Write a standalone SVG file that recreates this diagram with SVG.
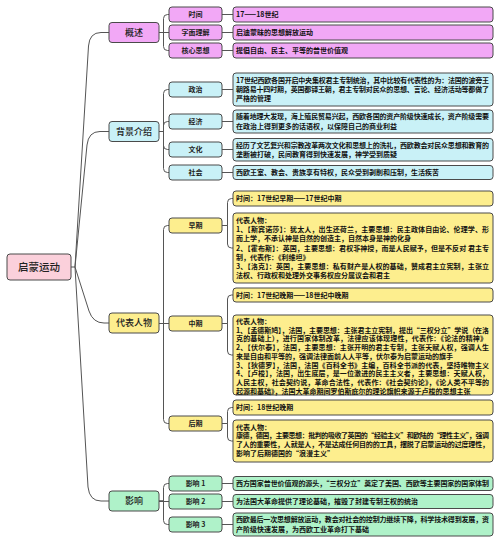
<svg xmlns="http://www.w3.org/2000/svg" width="500" height="543" viewBox="0 0 500 543">
<style>
text{font-family:"Noto Sans CJK SC","Noto Sans",sans-serif;}
.box{stroke:#4a4a4a;stroke-width:1;}
.root{fill:#fbd0db;}
.v{fill:#f2a8f6;}
.c{fill:#c9f1f7;}
.y{fill:#fdee8e;}
.g{fill:#aff2c9;}
.t0{font-size:10.5px;fill:#222;text-anchor:middle;font-weight:500;}
.t1{font-size:9px;fill:#222;text-anchor:middle;font-weight:500;}
.t2{font-size:7px;fill:#222;text-anchor:middle;font-weight:600;}
.t3{font-size:7px;fill:#111;font-weight:700;}
.conn path{fill:none;stroke:#555;stroke-width:1;}
</style>
<rect width="500" height="543" fill="#ffffff"/>
<g class="conn" id="connectors">
<path d="M71,267 H75"/>
<path d="M75,267 L88.5,46 Q89.5,32.5 101,32.5 H109"/>
<path d="M75,267 L87,145 Q88.5,131.5 100,131.5 H109"/>
<path d="M75,267 L89,311 Q93,323 104,323 H109"/>
<path d="M75,267 L88,487 Q89.5,501 101,501 H109"/>
<path d="M159,32.5 H163.5 V18.5 Q163.5,14.5 167.5,14.5 H169"/>
<path d="M159,32.5 H169"/>
<path d="M159,32.5 H163.5 V46.5 Q163.5,50.5 167.5,50.5 H169"/>
<path d="M159,131.5 H163.5 V93.5 Q163.5,89.5 167.5,89.5 H169"/>
<path d="M159,131.5 H163.5 V125.5 Q163.5,121.5 167.5,121.5 H169"/>
<path d="M159,131.5 H163.5 V145.5 Q163.5,149.5 167.5,149.5 H169"/>
<path d="M159,131.5 H163.5 V168.5 Q163.5,172.5 167.5,172.5 H169"/>
<path d="M159,323.5 H163.5 V229.5 Q163.5,225.5 167.5,225.5 H169"/>
<path d="M159,323.5 H169"/>
<path d="M159,323.5 H163.5 V419.5 Q163.5,423.5 167.5,423.5 H169"/>
<path d="M159,501 H163.5 V487.5 Q163.5,483.5 167.5,483.5 H169"/>
<path d="M159,501.5 H169"/>
<path d="M159,501 H163.5 V520.5 Q163.5,524.5 167.5,524.5 H169"/>
<path d="M222,14.5 H233"/>
<path d="M222,32.5 H233"/>
<path d="M222,50.5 H233"/>
<path d="M222,89.5 H233"/>
<path d="M222,121.5 H233"/>
<path d="M222,149.5 H233"/>
<path d="M222,172.5 H233"/>
<path d="M222,225.5 H227.5 V202.5 Q227.5,198.5 231.5,198.5 H233"/>
<path d="M222,225.5 H227.5 V244 Q227.5,248 231.5,248 H233"/>
<path d="M222,323.5 H227.5 V299 Q227.5,295 231.5,295 H233"/>
<path d="M222,323.5 H227.5 V351 Q227.5,355 231.5,355 H233"/>
<path d="M222,423.5 H227.5 V411.5 Q227.5,407.5 231.5,407.5 H233"/>
<path d="M222,423.5 H227.5 V437 Q227.5,441 231.5,441 H233"/>
<path d="M222,483.5 H233"/>
<path d="M222,501.5 H233"/>
<path d="M222,524.5 H233"/>
</g>
<g id="root"><rect class="box root" x="7" y="254" width="64" height="26" rx="3"/><text class="t0" x="39" y="271">启蒙运动</text></g>
<g id="gaishu"><rect class="box v" x="109" y="22.5" width="50" height="20" rx="3"/><text class="t1" x="134" y="35.7">概述</text></g>
<g id="beijing"><rect class="box c" x="109" y="121.5" width="50" height="20" rx="3"/><text class="t1" x="134" y="134.7">背景介绍</text></g>
<g id="daibiao"><rect class="box y" x="109" y="313" width="50" height="20" rx="3"/><text class="t1" x="134" y="326.2">代表人物</text></g>
<g id="yingxiang"><rect class="box g" x="109" y="491" width="50" height="20" rx="3"/><text class="t1" x="134" y="504.2">影响</text></g>

<g id="shijian"><rect class="box v" x="169" y="7" width="53" height="15" rx="3"/><text class="t2" x="195.5" y="17">时间</text></g>
<g id="zimian"><rect class="box v" x="169" y="25" width="53" height="15" rx="3"/><text class="t2" x="195.5" y="35">字面理解</text></g>
<g id="hexin"><rect class="box v" x="169" y="43" width="53" height="15" rx="3"/><text class="t2" x="195.5" y="53">核心思想</text></g>
<g id="shijian-d"><rect class="box v" x="233" y="7" width="260" height="15" rx="3"/><text class="t3" x="236" y="17">17——18世纪</text></g>
<g id="zimian-d"><rect class="box v" x="233" y="25" width="260" height="15" rx="3"/><text class="t3" x="236" y="35">启迪蒙昧的思想解放运动</text></g>
<g id="hexin-d"><rect class="box v" x="233" y="43" width="260" height="15" rx="3"/><text class="t3" x="236" y="53">提倡自由、民主、平等的普世价值观</text></g>

<g id="zhengzhi"><rect class="box c" x="169" y="82" width="53" height="15" rx="3"/><text class="t2" x="195.5" y="92">政治</text></g>
<g id="jingji"><rect class="box c" x="169" y="114" width="53" height="15" rx="3"/><text class="t2" x="195.5" y="124">经济</text></g>
<g id="wenhua"><rect class="box c" x="169" y="142" width="53" height="15" rx="3"/><text class="t2" x="195.5" y="152">文化</text></g>
<g id="shehui"><rect class="box c" x="169" y="165" width="53" height="15" rx="3"/><text class="t2" x="195.5" y="175">社会</text></g>
<g id="zhengzhi-d"><rect class="box c" x="233" y="73" width="260" height="33" rx="3"/>
<text class="t3" x="236" y="83" textLength="253">17世纪西欧各国开启中央集权君主专制统治，其中比较有代表性的为：法国的波旁王</text>
<text class="t3" x="236" y="92" textLength="253">朝路易十四时期，英国都铎王朝，君主专制对民众的思想、言论、经济活动等都做了</text>
<text class="t3" x="236" y="101">严格的管理</text></g>
<g id="jingji-d"><rect class="box c" x="233" y="110" width="260" height="23" rx="3"/>
<text class="t3" x="236" y="119" textLength="253">随着地理大发现，海上殖民贸易兴起，西欧各国的资产阶级快速成长，资产阶级需要</text>
<text class="t3" x="236" y="128.5">在政治上得到更多的话语权，以保障自己的商业利益</text></g>
<g id="wenhua-d"><rect class="box c" x="233" y="138.5" width="260" height="22.5" rx="3"/>
<text class="t3" x="236" y="147.5" textLength="253">经历了文艺复兴和宗教改革两次文化和思想上的洗礼，西欧教会对民众思想和教育的</text>
<text class="t3" x="236" y="157">垄断被打破，民间教育得到快速发展，神学受到质疑</text></g>
<g id="shehui-d"><rect class="box c" x="233" y="165.5" width="260" height="14" rx="3"/><text class="t3" x="236" y="175">西欧王室、教会、贵族享有特权，民众受到剥削和压制，生活疾苦</text></g>

<g id="zaoqi"><rect class="box y" x="169" y="218" width="53" height="15" rx="3"/><text class="t2" x="195.5" y="228">早期</text></g>
<g id="zhongqi"><rect class="box y" x="169" y="316" width="53" height="15" rx="3"/><text class="t2" x="195.5" y="326">中期</text></g>
<g id="houqi"><rect class="box y" x="169" y="416" width="53" height="15" rx="3"/><text class="t2" x="195.5" y="426">后期</text></g>
<g id="zaoqi-t"><rect class="box y" x="233" y="191" width="260" height="15" rx="3"/><text class="t3" x="236" y="201">时间：17世纪早期——17世纪中期</text></g>
<g id="zaoqi-d"><rect class="box y" x="233" y="213" width="260" height="70" rx="3"/>
<text class="t3" x="236" y="223">代表人物：</text>
<text class="t3" x="236" y="232.2" textLength="253">1、【斯宾诺莎】：犹太人，出生还荷兰，主要思想：民主政体自由论、伦理学、形</text>
<text class="t3" x="236" y="241.4">而上学，不承认神是自然的创造主，自然本身是神的化身</text>
<text class="t3" x="236" y="250.6" textLength="253">2、【霍布斯】：英国，主要思想：君权非神授，而是人民赋予，但是不反对 君主专</text>
<text class="t3" x="236" y="259.8">制，代表作：《利维坦》</text>
<text class="t3" x="236" y="269" textLength="253">3、【洛克】：英国，主要思想：私有财产是人权的基础，赞成君主立宪制，主张立</text>
<text class="t3" x="236" y="278.2">法权、行政权和处理外交事务权应分属议会和君主</text></g>
<g id="zhongqi-t"><rect class="box y" x="233" y="288" width="260" height="14" rx="3"/><text class="t3" x="236" y="297.5">时间：17世纪晚期——18世纪中晚期</text></g>
<g id="zhongqi-d"><rect class="box y" x="233" y="315" width="260" height="80" rx="3"/>
<text class="t3" x="236" y="324">代表人物：</text>
<text class="t3" x="236" y="332.7" textLength="253">1、【孟德斯鸠】，法国，主要思想：主张君主立宪制，提出“三权分立”学说（在洛</text>
<text class="t3" x="236" y="341.4" textLength="251">克的基础上），进行国家体制改革，法律应该体现理性，代表作：《论法的精神》</text>
<text class="t3" x="236" y="350.1" textLength="253">2、【伏尔泰】，法国，主要思想：主张开明的君主专制，主张天赋人权，强调人生</text>
<text class="t3" x="236" y="358.8">来是自由和平等的，强调法律面前人人平等，伏尔泰为启蒙运动的旗手</text>
<text class="t3" x="236" y="367.5" textLength="253">3、【狄德罗】，法国，法国《百科全书》主编，百科全书派的代表，坚持唯物主义</text>
<text class="t3" x="236" y="376.2" textLength="253">4、【卢梭】，法国，出生底层，是一位激进的民主主义者，主要思想：天赋人权，</text>
<text class="t3" x="236" y="384.9" textLength="253">人民主权，社会契约说，革命合法性，代表作：《社会契约论》，《论人类不平等的</text>
<text class="t3" x="236" y="393.6">起源和基础》，法国大革命期间罗伯斯庇尔的理论旗帜来源于卢梭的思想主张</text></g>
<g id="houqi-t"><rect class="box y" x="233" y="400" width="260" height="15" rx="3"/><text class="t3" x="236" y="410">时间：18世纪晚期</text></g>
<g id="houqi-d"><rect class="box y" x="233" y="420" width="260" height="42" rx="3"/>
<text class="t3" x="236" y="429.5">代表人物：</text>
<text class="t3" x="236" y="438.2" textLength="253">康德，德国，主要思想：批判的吸收了英国的“经验主义”和欧陆的“理性主义”，强调</text>
<text class="t3" x="236" y="446.9" textLength="253">了人的重要性，人就是人，不是达成任何目的的工具，摆脱了启蒙运动的过度理性，</text>
<text class="t3" x="236" y="455.6">影响了后期德国的“浪漫主义”</text></g>

<g id="yx1"><rect class="box g" x="169" y="476" width="53" height="15" rx="3"/><text class="t2" x="195.5" y="486">影响 1</text></g>
<g id="yx2"><rect class="box g" x="169" y="494" width="53" height="15" rx="3"/><text class="t2" x="195.5" y="504">影响 2</text></g>
<g id="yx3"><rect class="box g" x="169" y="517" width="53" height="15" rx="3"/><text class="t2" x="195.5" y="527">影响 3</text></g>
<g id="yx1-d"><rect class="box g" x="233" y="476.5" width="260" height="14" rx="3"/><text class="t3" x="236" y="486" textLength="253">西方国家普世价值观的源头，“三权分立”奠定了美国、西欧等主要国家的国家体制</text></g>
<g id="yx2-d"><rect class="box g" x="233" y="494.5" width="260" height="14" rx="3"/><text class="t3" x="236" y="504">为法国大革命提供了理论基础，摧毁了封建专制王权的统治</text></g>
<g id="yx3-d"><rect class="box g" x="233" y="513" width="260" height="23" rx="3"/>
<text class="t3" x="236" y="522" textLength="253">西欧最后一次思想解放运动，教会对社会的控制力继续下降，科学技术得到发展，资</text>
<text class="t3" x="236" y="531.5">产阶级快速发展，为西欧工业革命打下基础</text></g>
</svg>
